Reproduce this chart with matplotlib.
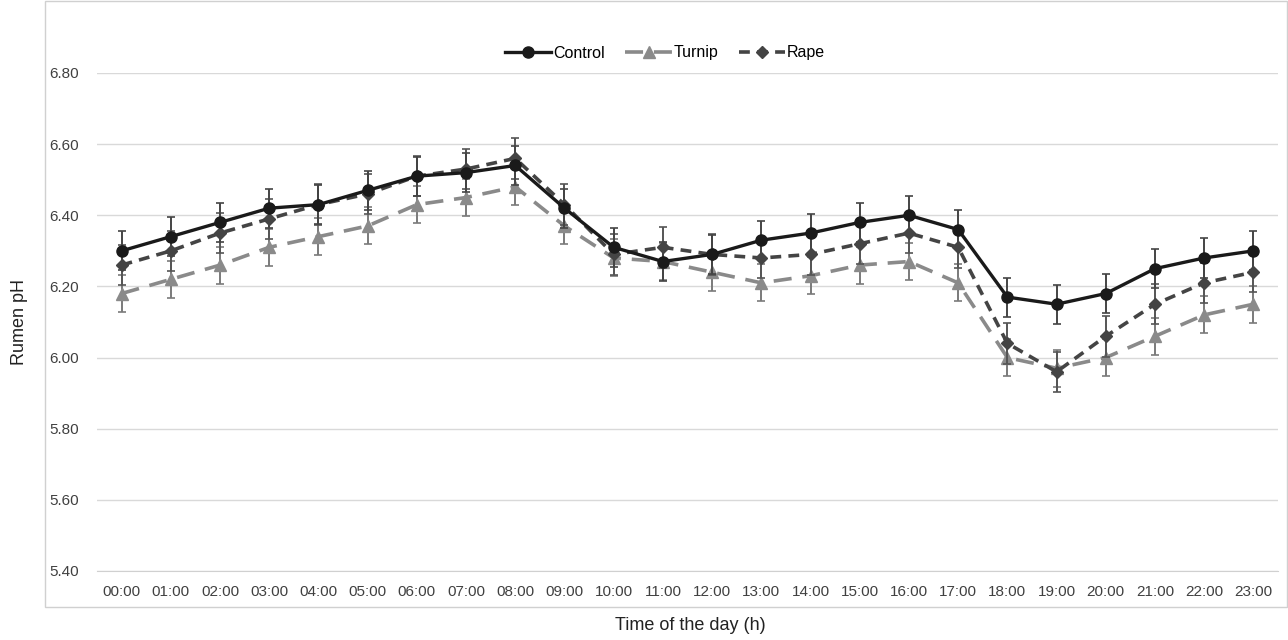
import matplotlib
matplotlib.use('Agg')
import matplotlib.pyplot as plt
from matplotlib.patches import Rectangle

plt.rcParams['font.family'] = ['Liberation Sans', 'DejaVu Sans']

hours = ['00:00', '01:00', '02:00', '03:00', '04:00', '05:00', '06:00', '07:00',
         '08:00', '09:00', '10:00', '11:00', '12:00', '13:00', '14:00', '15:00',
         '16:00', '17:00', '18:00', '19:00', '20:00', '21:00', '22:00', '23:00']

control = [6.30, 6.34, 6.38, 6.42, 6.43, 6.47, 6.51, 6.52, 6.54, 6.42, 6.31, 6.27,
           6.29, 6.33, 6.35, 6.38, 6.40, 6.36, 6.17, 6.15, 6.18, 6.25, 6.28, 6.30]
turnip = [6.18, 6.22, 6.26, 6.31, 6.34, 6.37, 6.43, 6.45, 6.48, 6.37, 6.28, 6.27,
          6.24, 6.21, 6.23, 6.26, 6.27, 6.21, 6.00, 5.97, 6.00, 6.06, 6.12, 6.15]
rape = [6.26, 6.30, 6.35, 6.39, 6.43, 6.46, 6.51, 6.53, 6.56, 6.43, 6.29, 6.31,
        6.29, 6.28, 6.29, 6.32, 6.35, 6.31, 6.04, 5.96, 6.06, 6.15, 6.21, 6.24]

control_err = [0.055] * 24
turnip_err = [0.052] * 24
rape_err = [0.057] * 24

x = list(range(len(hours)))

fig = plt.figure(figsize=(12.88, 6.4), dpi=100)
ax = fig.add_axes([97/1288, 1 - 571/640, (1278-97)/1288, (571-73)/640])

# chart border
fig.patches.append(Rectangle((45/1288, 1 - 607/640), (1287-45)/1288, 606/640,
                             transform=fig.transFigure, fill=False,
                             edgecolor='#d0d0d0', linewidth=1))

t = ax.errorbar(x, turnip, yerr=turnip_err, color='#8a8a8a', ecolor='#7a7a7a',
                elinewidth=1.4, capsize=3, capthick=1.2, linewidth=2.6,
                dashes=(5, 3), marker='^', markersize=8, label='Turnip', zorder=3)
r = ax.errorbar(x, rape, yerr=rape_err, color='#444444', ecolor='#555555',
                elinewidth=1.4, capsize=3, capthick=1.2, linewidth=2.6,
                dashes=(3, 2), marker='D', markersize=6.5, label='Rape', zorder=4)
c = ax.errorbar(x, control, yerr=control_err, color='#1a1a1a', ecolor='#444444',
                elinewidth=1.4, capsize=3, capthick=1.2, linewidth=2.4,
                marker='o', markersize=8, label='Control', zorder=5)

ax.set_xlim(-0.5, 23.5)
ax.set_ylim(5.40, 6.80)
ax.set_yticks([5.40, 5.60, 5.80, 6.00, 6.20, 6.40, 6.60, 6.80])
ax.set_yticklabels(['%.2f' % v for v in ax.get_yticks()])
ax.set_xticks(x)
ax.set_xticklabels(hours)
ax.tick_params(axis='both', length=0, labelsize=11, labelcolor='#404040')
ax.tick_params(axis='x', pad=10)
ax.tick_params(axis='y', pad=13)
ax.grid(axis='y', color='#d9d9d9', linewidth=1)
ax.set_axisbelow(True)
for s in ['top', 'right', 'left']:
    ax.spines[s].set_visible(False)
ax.spines['bottom'].set_color('#d0d0d0')
ax.spines['bottom'].set_zorder(0.5)

ax.set_ylabel('Rumen pH', fontsize=13, color='#222222')
ax.yaxis.set_label_coords(-(97 - 28)/1181, 0.5)
fig.text(690/1288, 1 - 626/640, 'Time of the day (h)', fontsize=13,
         color='#222222', ha='center', va='center')

ax.legend([c[0], t[0], r[0]], ['Control', 'Turnip', 'Rape'],
          loc='center', bbox_to_anchor=((665 - 97)/1181, 1 + 20/498), ncol=3,
          frameon=False, fontsize=11.5, handlelength=2.9, columnspacing=1.3,
          handletextpad=0.1)

fig.savefig('out.png', dpi=100)
